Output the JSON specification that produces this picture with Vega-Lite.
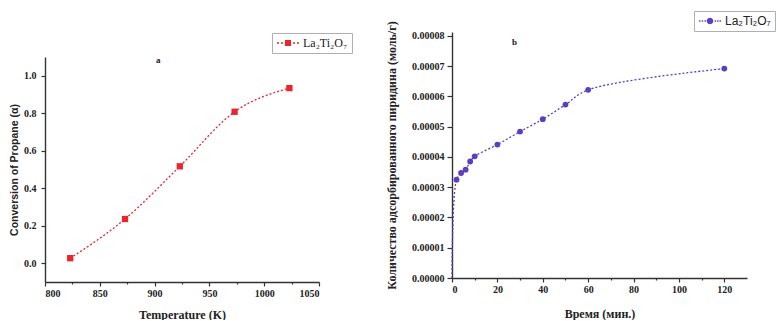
{
  "$schema": "https://vega.github.io/schema/vega-lite/v6.json",
  "background": "white",
  "padding": {"left": 9, "top": 10, "right": 0, "bottom": 0},
  "spacing": 133,
  "bounds": "flush",
  "config": {
    "view": {"stroke": null},
    "axis": {
      "grid": false,
      "domainColor": "#333",
      "domainWidth": 1.4,
      "tickColor": "#333",
      "tickWidth": 1.2,
      "labelFont": "Liberation Serif, Times New Roman, serif",
      "labelFontWeight": "bold",
      "labelFontSize": 10,
      "labelColor": "#222",
      "titleFont": "Liberation Serif, Times New Roman, serif",
      "titleFontWeight": "bold",
      "titleFontSize": 12,
      "titleColor": "#222"
    },
    "legend": {
      "strokeColor": "#b0b0b0",
      "fillColor": "white",
      "padding": 4,
      "cornerRadius": 0,
      "labelColor": "#222"
    }
  },
  "hconcat": [
    {
      "width": 274,
      "height": 250,
      "title": {"text": "a", "anchor": "start", "frame": "group", "dx": 111, "offset": -33, "fontSize": 9, "font": "Liberation Serif, Times New Roman, serif", "fontWeight": "bold", "color": "#222"},
      "data": {"values": [
        {"T": 823, "conv": 0.027, "sample": "La₂Ti₂O₇"},
        {"T": 873, "conv": 0.236, "sample": "La₂Ti₂O₇"},
        {"T": 923, "conv": 0.517, "sample": "La₂Ti₂O₇"},
        {"T": 973, "conv": 0.808, "sample": "La₂Ti₂O₇"},
        {"T": 1023, "conv": 0.934, "sample": "La₂Ti₂O₇"}
      ]},
      "encoding": {
        "x": {"field": "T", "type": "quantitative",
          "scale": {"domain": [800, 1050], "nice": false},
          "axis": {"title": "Temperature (K)", "values": [800, 825, 850, 875, 900, 925, 950, 975, 1000, 1025, 1050],
            "labelExpr": "datum.value % 50 === 0 ? datum.label : ''",
            "tickSize": {"condition": {"test": "datum.value % 50 === 0", "value": 4}, "value": 2},
            "labelPadding": 2, "titlePadding": 11, "format": "d"}},
        "y": {"field": "conv", "type": "quantitative",
          "scale": {"domain": [-0.1, 1.1], "nice": false, "zero": false, "range": [250, 25]},
          "axis": {"title": "Conversion of Propane (α)", "values": [0, 0.2, 0.4, 0.6, 0.8, 1.0], "format": ".1f",
            "tickSize": 4, "labelPadding": 5, "titlePadding": 4,
            "titleFont": "Liberation Sans, Arial, sans-serif", "titleFontSize": 10.5}}
      },
      "layer": [
        {"mark": {"type": "line", "interpolate": "monotone", "strokeDash": [2, 2], "color": "#e8262b", "strokeWidth": 1.3}},
        {"mark": {"type": "point", "shape": "square", "filled": true, "size": 40, "opacity": 1},
          "encoding": {"color": {"field": "sample", "type": "nominal", "scale": {"range": ["#e8262b"]},
            "legend": {"title": null, "orient": "none", "legendX": 227, "legendY": 1,
              "symbolType": "M-2,-0.13h0.36v0.26h-0.36z M-1.27,-0.13h0.36v0.26h-0.36z M-0.55,-0.55h1.1v1.1h-1.1z M0.91,-0.13h0.36v0.26h-0.36z M1.64,-0.13h0.36v0.26h-0.36z",
              "symbolSize": 121, "symbolStrokeWidth": 0, "symbolOffset": 6, "labelOffset": 9,
              "labelFont": "Liberation Serif, Times New Roman, serif", "labelFontSize": 12}}}}
      ]
    },
    {
      "width": 295,
      "height": 246,
      "title": {"text": "b", "anchor": "start", "frame": "group", "dx": 60, "offset": -36, "fontSize": 9, "font": "Liberation Serif, Times New Roman, serif", "fontWeight": "bold", "color": "#222"},
      "data": {"values": [
        {"t": 0, "q": 0, "sample": "La₂Ti₂O₇"},
        {"t": 2, "q": 0.0000325, "sample": "La₂Ti₂O₇"},
        {"t": 4, "q": 0.0000347, "sample": "La₂Ti₂O₇"},
        {"t": 6, "q": 0.0000358, "sample": "La₂Ti₂O₇"},
        {"t": 8, "q": 0.0000385, "sample": "La₂Ti₂O₇"},
        {"t": 10, "q": 0.0000402, "sample": "La₂Ti₂O₇"},
        {"t": 20, "q": 0.0000441, "sample": "La₂Ti₂O₇"},
        {"t": 30, "q": 0.0000484, "sample": "La₂Ti₂O₇"},
        {"t": 40, "q": 0.0000525, "sample": "La₂Ti₂O₇"},
        {"t": 50, "q": 0.0000573, "sample": "La₂Ti₂O₇"},
        {"t": 60, "q": 0.0000622, "sample": "La₂Ti₂O₇"},
        {"t": 120, "q": 0.0000692, "sample": "La₂Ti₂O₇"}
      ]},
      "encoding": {
        "x": {"field": "t", "type": "quantitative",
          "scale": {"domain": [0, 130], "nice": false},
          "axis": {"title": "Время (мин.)", "values": [0, 10, 20, 30, 40, 50, 60, 70, 80, 90, 100, 110, 120],
            "labelExpr": "datum.value % 20 === 0 ? datum.label : ''",
            "tickSize": {"condition": {"test": "datum.value % 20 === 0", "value": 4}, "value": 2},
            "labelPadding": 2, "titlePadding": 14, "format": "d"}},
        "y": {"field": "q", "type": "quantitative",
          "scale": {"domain": [0, 0.0000813], "nice": false},
          "axis": {"title": "Количество адсорбированного пиридина (моль/г)",
            "values": [0, 0.00001, 0.00002, 0.00003, 0.00004, 0.00005, 0.00006, 0.00007, 0.00008], "format": ".5f",
            "tickSize": 5, "labelPadding": 3, "titlePadding": 13}}
      },
      "layer": [
        {"mark": {"type": "line", "interpolate": "catmull-rom", "strokeDash": [2, 2], "color": "#5a3fc0", "strokeWidth": 1.3}},
        {"transform": [{"filter": "datum.t > 0"}],
          "mark": {"type": "point", "shape": "circle", "filled": true, "size": 34, "opacity": 1},
          "encoding": {"color": {"field": "sample", "type": "nominal", "scale": {"range": ["#5a3fc0"]},
            "legend": {"title": null, "orient": "none", "legendX": 242, "legendY": -21,
              "symbolType": "M-2,-0.13h0.26v0.26h-0.26z M-1.5,-0.13h0.26v0.26h-0.26z M-1.0,-0.13h0.26v0.26h-0.26z M-0.6,0A0.6,0.6,0,1,0,0.6,0A0.6,0.6,0,1,0,-0.6,0Z M0.85,-0.13h0.26v0.26h-0.26z M1.3,-0.13h0.26v0.26h-0.26z M1.74,-0.13h0.26v0.26h-0.26z",
              "symbolSize": 121, "symbolStrokeWidth": 0, "symbolOffset": 6, "labelOffset": 9,
              "labelFont": "Liberation Sans, Arial, sans-serif", "labelFontSize": 12}}}}
      ]
    }
  ],
  "resolve": {"scale": {"color": "independent"}, "legend": {"color": "independent"}}
}
